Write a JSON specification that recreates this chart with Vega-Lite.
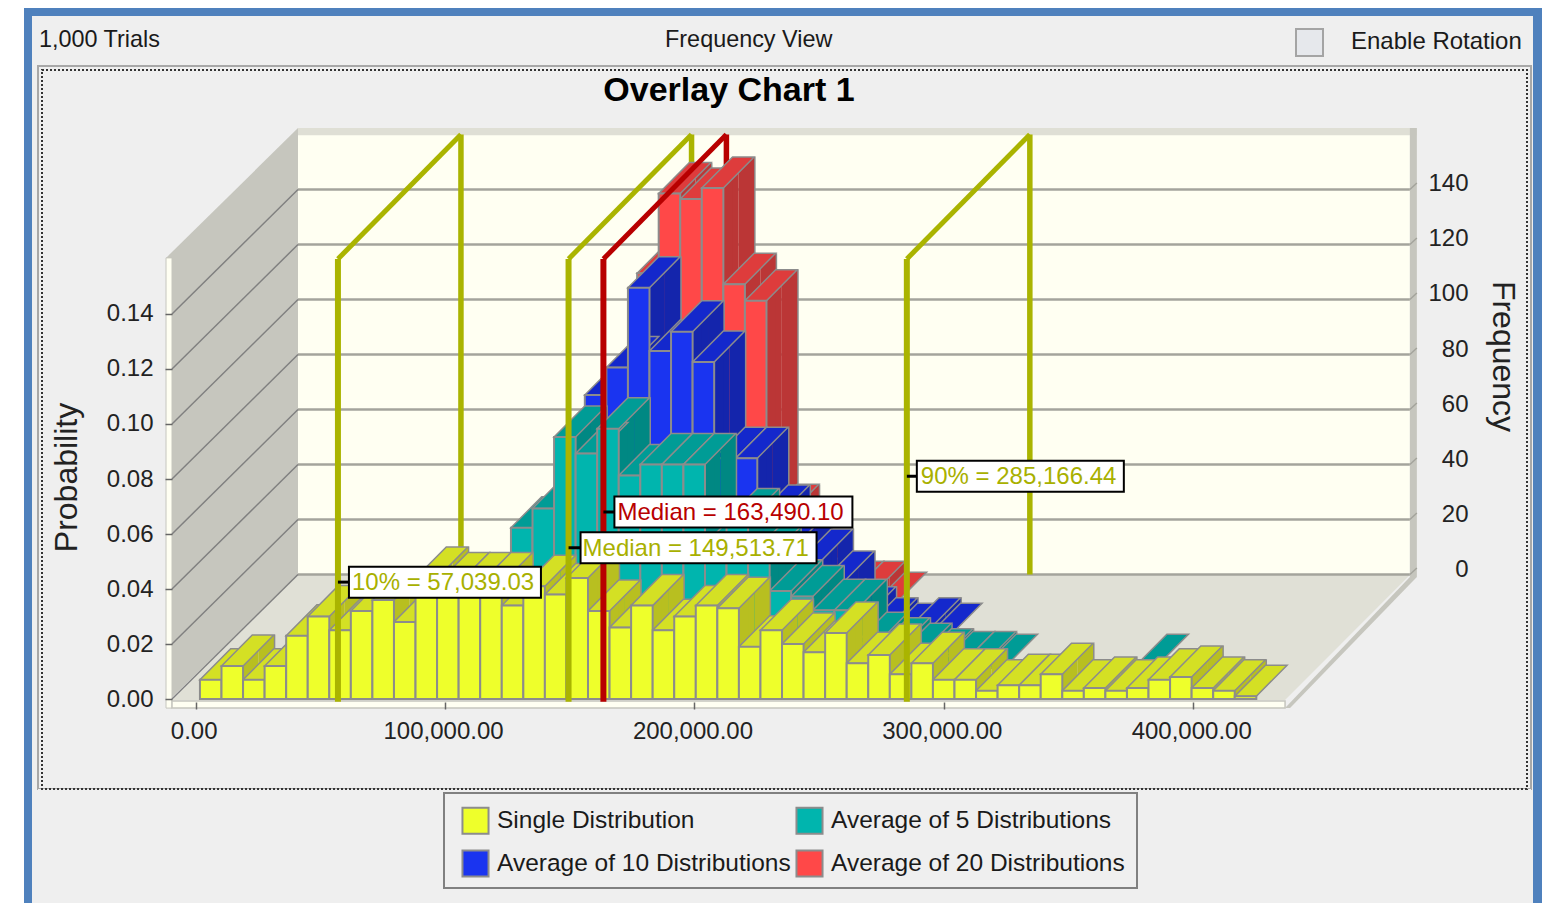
{"$schema":"https://vega.github.io/schema/vega-lite/v6.json","width":1542,"height":903,"padding":0,"autosize":"none","background":"#FFFFFF","config":{"view":{"stroke":null},"font":"Liberation Sans","axis":{"grid":false,"labelFont":"Liberation Sans","titleFont":"Liberation Sans"}},
"title":{"text":"Overlay Chart 1","font":"Liberation Sans","fontSize":34,"fontWeight":"bold","color":"#000000","anchor":"middle","dx":-42,"dy":108,"offset":0},
"datasets":{
"single":[
{"series":"Single Distribution","binStart":1700,"binEnd":10345,"freq":7},{"series":"Single Distribution","binStart":10345,"binEnd":18990,"freq":12},{"series":"Single Distribution","binStart":18990,"binEnd":27635,"freq":7},{"series":"Single Distribution","binStart":27635,"binEnd":36280,"freq":12},{"series":"Single Distribution","binStart":36280,"binEnd":44925,"freq":23},{"series":"Single Distribution","binStart":44925,"binEnd":53570,"freq":30},{"series":"Single Distribution","binStart":53570,"binEnd":62215,"freq":25},{"series":"Single Distribution","binStart":62215,"binEnd":70860,"freq":32},{"series":"Single Distribution","binStart":70860,"binEnd":79505,"freq":36},{"series":"Single Distribution","binStart":79505,"binEnd":88150,"freq":28},{"series":"Single Distribution","binStart":88150,"binEnd":96795,"freq":44},{"series":"Single Distribution","binStart":96795,"binEnd":105440,"freq":42},{"series":"Single Distribution","binStart":105440,"binEnd":114085,"freq":42},{"series":"Single Distribution","binStart":114085,"binEnd":122730,"freq":42},{"series":"Single Distribution","binStart":122730,"binEnd":131375,"freq":34},{"series":"Single Distribution","binStart":131375,"binEnd":140020,"freq":41},{"series":"Single Distribution","binStart":140020,"binEnd":148665,"freq":38},{"series":"Single Distribution","binStart":148665,"binEnd":157310,"freq":44},{"series":"Single Distribution","binStart":157310,"binEnd":165955,"freq":32},{"series":"Single Distribution","binStart":165955,"binEnd":174600,"freq":26},{"series":"Single Distribution","binStart":174600,"binEnd":183245,"freq":34},{"series":"Single Distribution","binStart":183245,"binEnd":191890,"freq":25},{"series":"Single Distribution","binStart":191890,"binEnd":200535,"freq":30},{"series":"Single Distribution","binStart":200535,"binEnd":209180,"freq":34},{"series":"Single Distribution","binStart":209180,"binEnd":217825,"freq":33},{"series":"Single Distribution","binStart":217825,"binEnd":226470,"freq":19},{"series":"Single Distribution","binStart":226470,"binEnd":235115,"freq":25},{"series":"Single Distribution","binStart":235115,"binEnd":243760,"freq":20},{"series":"Single Distribution","binStart":243760,"binEnd":252405,"freq":17},{"series":"Single Distribution","binStart":252405,"binEnd":261050,"freq":24},{"series":"Single Distribution","binStart":261050,"binEnd":269695,"freq":13},{"series":"Single Distribution","binStart":269695,"binEnd":278340,"freq":16},{"series":"Single Distribution","binStart":278340,"binEnd":286985,"freq":9},{"series":"Single Distribution","binStart":286985,"binEnd":295630,"freq":13},{"series":"Single Distribution","binStart":295630,"binEnd":304275,"freq":7},{"series":"Single Distribution","binStart":304275,"binEnd":312920,"freq":7},{"series":"Single Distribution","binStart":312920,"binEnd":321565,"freq":3},{"series":"Single Distribution","binStart":321565,"binEnd":330210,"freq":5},{"series":"Single Distribution","binStart":330210,"binEnd":338855,"freq":5},{"series":"Single Distribution","binStart":338855,"binEnd":347500,"freq":9},{"series":"Single Distribution","binStart":347500,"binEnd":356145,"freq":3},{"series":"Single Distribution","binStart":356145,"binEnd":364790,"freq":4},{"series":"Single Distribution","binStart":364790,"binEnd":373435,"freq":3},{"series":"Single Distribution","binStart":373435,"binEnd":382080,"freq":4},{"series":"Single Distribution","binStart":382080,"binEnd":390725,"freq":7},{"series":"Single Distribution","binStart":390725,"binEnd":399370,"freq":8},{"series":"Single Distribution","binStart":399370,"binEnd":408015,"freq":4},{"series":"Single Distribution","binStart":408015,"binEnd":416660,"freq":3},{"series":"Single Distribution","binStart":416660,"binEnd":425305,"freq":1}],
"avg5":[
{"series":"Average of 5 Distributions","binStart":88150,"binEnd":96795,"freq":8},{"series":"Average of 5 Distributions","binStart":96795,"binEnd":105440,"freq":16},{"series":"Average of 5 Distributions","binStart":105440,"binEnd":114085,"freq":30},{"series":"Average of 5 Distributions","binStart":114085,"binEnd":122730,"freq":51},{"series":"Average of 5 Distributions","binStart":122730,"binEnd":131375,"freq":58},{"series":"Average of 5 Distributions","binStart":131375,"binEnd":140020,"freq":84},{"series":"Average of 5 Distributions","binStart":140020,"binEnd":148665,"freq":78},{"series":"Average of 5 Distributions","binStart":148665,"binEnd":157310,"freq":87},{"series":"Average of 5 Distributions","binStart":157310,"binEnd":165955,"freq":70},{"series":"Average of 5 Distributions","binStart":165955,"binEnd":174600,"freq":74},{"series":"Average of 5 Distributions","binStart":174600,"binEnd":183245,"freq":74},{"series":"Average of 5 Distributions","binStart":183245,"binEnd":191890,"freq":74},{"series":"Average of 5 Distributions","binStart":191890,"binEnd":200535,"freq":45},{"series":"Average of 5 Distributions","binStart":200535,"binEnd":209180,"freq":54},{"series":"Average of 5 Distributions","binStart":209180,"binEnd":217825,"freq":40},{"series":"Average of 5 Distributions","binStart":217825,"binEnd":226470,"freq":28},{"series":"Average of 5 Distributions","binStart":226470,"binEnd":235115,"freq":26},{"series":"Average of 5 Distributions","binStart":235115,"binEnd":243760,"freq":21},{"series":"Average of 5 Distributions","binStart":243760,"binEnd":252405,"freq":21},{"series":"Average of 5 Distributions","binStart":252405,"binEnd":261050,"freq":9},{"series":"Average of 5 Distributions","binStart":261050,"binEnd":269695,"freq":7},{"series":"Average of 5 Distributions","binStart":269695,"binEnd":278340,"freq":5},{"series":"Average of 5 Distributions","binStart":278340,"binEnd":286985,"freq":3},{"series":"Average of 5 Distributions","binStart":286985,"binEnd":295630,"freq":2},{"series":"Average of 5 Distributions","binStart":295630,"binEnd":304275,"freq":2},{"series":"Average of 5 Distributions","binStart":304275,"binEnd":312920,"freq":1},{"series":"Average of 5 Distributions","binStart":364790,"binEnd":373435,"freq":1}],
"avg10":[
{"series":"Average of 10 Distributions","binStart":114085,"binEnd":122730,"freq":30},{"series":"Average of 10 Distributions","binStart":122730,"binEnd":131375,"freq":60},{"series":"Average of 10 Distributions","binStart":131375,"binEnd":140020,"freq":88},{"series":"Average of 10 Distributions","binStart":140020,"binEnd":148665,"freq":98},{"series":"Average of 10 Distributions","binStart":148665,"binEnd":157310,"freq":127},{"series":"Average of 10 Distributions","binStart":157310,"binEnd":165955,"freq":104},{"series":"Average of 10 Distributions","binStart":165955,"binEnd":174600,"freq":111},{"series":"Average of 10 Distributions","binStart":174600,"binEnd":183245,"freq":100},{"series":"Average of 10 Distributions","binStart":183245,"binEnd":191890,"freq":65},{"series":"Average of 10 Distributions","binStart":191890,"binEnd":200535,"freq":65},{"series":"Average of 10 Distributions","binStart":200535,"binEnd":209180,"freq":44},{"series":"Average of 10 Distributions","binStart":209180,"binEnd":217825,"freq":35},{"series":"Average of 10 Distributions","binStart":217825,"binEnd":226470,"freq":28},{"series":"Average of 10 Distributions","binStart":226470,"binEnd":235115,"freq":20},{"series":"Average of 10 Distributions","binStart":235115,"binEnd":243760,"freq":7},{"series":"Average of 10 Distributions","binStart":243760,"binEnd":252405,"freq":3},{"series":"Average of 10 Distributions","binStart":252405,"binEnd":261050,"freq":1},{"series":"Average of 10 Distributions","binStart":261050,"binEnd":269695,"freq":3},{"series":"Average of 10 Distributions","binStart":269695,"binEnd":278340,"freq":1}],
"avg20":[
{"series":"Average of 20 Distributions","binStart":122730,"binEnd":131375,"freq":45},{"series":"Average of 20 Distributions","binStart":131375,"binEnd":140020,"freq":70},{"series":"Average of 20 Distributions","binStart":140020,"binEnd":148665,"freq":121},{"series":"Average of 20 Distributions","binStart":148665,"binEnd":157310,"freq":150},{"series":"Average of 20 Distributions","binStart":157310,"binEnd":165955,"freq":148},{"series":"Average of 20 Distributions","binStart":165955,"binEnd":174600,"freq":152},{"series":"Average of 20 Distributions","binStart":174600,"binEnd":183245,"freq":117},{"series":"Average of 20 Distributions","binStart":183245,"binEnd":191890,"freq":111},{"series":"Average of 20 Distributions","binStart":191890,"binEnd":200535,"freq":33},{"series":"Average of 20 Distributions","binStart":200535,"binEnd":209180,"freq":15},{"series":"Average of 20 Distributions","binStart":209180,"binEnd":217825,"freq":7},{"series":"Average of 20 Distributions","binStart":217825,"binEnd":226470,"freq":5},{"series":"Average of 20 Distributions","binStart":226470,"binEnd":235115,"freq":5},{"series":"Average of 20 Distributions","binStart":235115,"binEnd":243760,"freq":1}],
"levels":[{"freq":0},{"freq":20},{"freq":40},{"freq":60},{"freq":80},{"freq":100},{"freq":120},{"freq":140}],
"markers":[
{"label":"10% = 57,039.03","value":57039.03,"level":42.5},
{"label":"Median = 149,513.71","value":149513.71,"level":55},
{"label":"Median = 163,490.10","value":163490.1,"level":68},
{"label":"90% = 285,166.44","value":285166.44,"level":81}]
},
"layer":[
{"layer":[
{"data":{"values":[{"a":-68852,"b":539866,"c":251.27,"d":-74.18}]},"mark":{"type":"rect","color":"#4F81BD"},"encoding":{
"x":{"field":"a","type":"quantitative","scale":{"domain":[-78476,539866],"nice":false,"zero":false},"axis":{"orient":"bottom","offset":-201,"zindex":1,"values":[0,100000,200000,300000,400000],"format":",.2f","title":null,"domain":false,"tickSize":7,"tickColor":"#666666","tickWidth":1.5,"labelPadding":10,"labelOffset":-2,"labelFontSize":24,"labelColor":"#222222","labelFlush":false,"labelOverlap":false},"title":null},"x2":{"field":"b"},
"y":{"field":"c","type":"quantitative","scale":{"domain":[-74.18,254.18],"nice":false,"zero":false},"axis":{"orient":"left","offset":-172,"zindex":1,"values":[0,20,40,60,80,100,120,140],"labelExpr":"format(datum.value/1000,'.2f')","title":"Probability","titleFontSize":32,"titleFontWeight":"normal","titleColor":"#222222","titleX":-106,"titleY":477,"titleAngle":270,"titleAlign":"center","titleBaseline":"middle","domain":false,"tickSize":7,"tickColor":"#666666","tickWidth":1.5,"labelPadding":12,"labelFontSize":24,"labelColor":"#222222","labelOverlap":false}},"y2":{"field":"d"}}},
{"data":{"values":[{"a":-65644,"b":536257,"c":248.36,"d":-74.18}]},"mark":{"type":"rect","color":"#EFEFEF"},"encoding":{"x":{"field":"a","type":"quantitative"},"x2":{"field":"b"},"y":{"field":"c","type":"quantitative"},"y2":{"field":"d"}}},
{"data":{"values":[{"a":-63238,"b":535455,"c":230.18,"d":-32.73}]},"mark":{"type":"rect","fill":"#EFEFEF","stroke":"#A8A8A8","strokeWidth":2},"encoding":{"x":{"field":"a","type":"quantitative"},"x2":{"field":"b"},"y":{"field":"c","type":"quantitative"},"y2":{"field":"d"}}},
{"data":{"values":[{"a":-63238,"b":535455,"c":-32.73,"d":-36}]},"mark":{"type":"rect","color":"#EFEFEF"},"encoding":{"x":{"field":"a","type":"quantitative"},"x2":{"field":"b"},"y":{"field":"c","type":"quantitative"},"y2":{"field":"d"}}},
{"data":{"values":[{"a":-61634,"b":533851,"c":228.73,"d":-32.73}]},"mark":{"type":"rect","fillOpacity":0,"stroke":"#333333","strokeWidth":2,"strokeDash":[2,2]},"encoding":{"x":{"field":"a","type":"quantitative"},"x2":{"field":"b"},"y":{"field":"c","type":"quantitative"},"y2":{"field":"d"}}},
{"data":{"values":[{"a":99568,"b":377461,"c":-34.18,"d":-68.73}]},"mark":{"type":"rect","fill":"#EFEFEF","stroke":"#808080","strokeWidth":2},"encoding":{"x":{"field":"a","type":"quantitative"},"x2":{"field":"b"},"y":{"field":"c","type":"quantitative"},"y2":{"field":"d"}}},
{"data":{"values":[{"a":441220,"b":452047,"c":243.6,"d":233.8}]},"mark":{"type":"rect","fill":"#E6E8EC","stroke":"#A4A4A4","strokeWidth":2},"encoding":{"x":{"field":"a","type":"quantitative"},"x2":{"field":"b"},"y":{"field":"c","type":"quantitative"},"y2":{"field":"d"}}},
{"data":{"values":[{"text":"1,000 Trials","a":-62837,"c":239.6},{"text":"Frequency View","a":188206,"c":239.6}]},"mark":{"type":"text","align":"left","baseline":"middle","font":"Liberation Sans","fontSize":23.4,"color":"#1A1A1A"},"encoding":{"x":{"field":"a","type":"quantitative"},"y":{"field":"c","type":"quantitative"},"text":{"field":"text"}}},
{"data":{"values":[{"text":"Enable Rotation","a":463275,"c":239}]},"mark":{"type":"text","align":"left","baseline":"middle","font":"Liberation Sans","fontSize":24,"color":"#1A1A1A"},"encoding":{"x":{"field":"a","type":"quantitative"},"y":{"field":"c","type":"quantitative"},"text":{"field":"text"}}},
{"data":{"values":[{"a":-11910,"c":160.4,"d":-1.5},{"a":41022,"c":207.6,"d":45.1}]},"mark":{"type":"area","color":"#C6C6BE"},"encoding":{"x":{"field":"a","type":"quantitative"},"y":{"field":"c","type":"quantitative"},"y2":{"field":"d"}}},
{"data":{"values":[{"a":-9504,"b":436833,"c":-0.4},{"a":41022,"b":486877,"c":45.1}]},"mark":{"type":"area","orient":"horizontal","color":"#E0E0D6"},"encoding":{"y":{"field":"c","type":"quantitative"},"x":{"field":"a","type":"quantitative"},"x2":{"field":"b"}}},
{"data":{"values":[{"a":436833,"b":438838,"c":-3.3},{"a":486877,"b":489684,"c":44.4}]},"mark":{"type":"area","orient":"horizontal","color":"#C6C6BE"},"encoding":{"y":{"field":"c","type":"quantitative"},"x":{"field":"a","type":"quantitative"},"x2":{"field":"b"}}},
{"data":{"values":[{"a":41022,"b":486877,"c":207.6,"d":45.1}]},"mark":{"type":"rect","color":"#FFFFF2"},"encoding":{"x":{"field":"a","type":"quantitative"},"x2":{"field":"b"},"y":{"field":"c","type":"quantitative"},"y2":{"field":"d"}}},
{"data":{"values":[{"a":41022,"b":489684,"c":207.6,"d":205}]},"mark":{"type":"rect","color":"#DFDFD5"},"encoding":{"x":{"field":"a","type":"quantitative"},"x2":{"field":"b"},"y":{"field":"c","type":"quantitative"},"y2":{"field":"d"}}},
{"data":{"values":[{"a":486877,"b":489684,"c":207.6,"d":44.4}]},"mark":{"type":"rect","color":"#C6C6BE"},"encoding":{"x":{"field":"a","type":"quantitative"},"x2":{"field":"b"},"y":{"field":"c","type":"quantitative"},"y2":{"field":"d"}}},
{"data":{"values":[{"a":-11910,"b":-9504,"c":160.4,"d":-3.3}]},"mark":{"type":"rect","color":"#FFFFF2","stroke":"#C6C6BE","strokeWidth":1},"encoding":{"x":{"field":"a","type":"quantitative"},"x2":{"field":"b"},"y":{"field":"c","type":"quantitative"},"y2":{"field":"d"}}},
{"data":{"values":[{"a":-9504,"b":436833,"c":-0.7,"d":-3.3}]},"mark":{"type":"rect","color":"#FFFFF2","stroke":"#C6C6BE","strokeWidth":1.5},"encoding":{"x":{"field":"a","type":"quantitative"},"x2":{"field":"b"},"y":{"field":"c","type":"quantitative"},"y2":{"field":"d"}}},
{"data":{"name":"levels"},"mark":{"type":"rule","color":"#A4A49C","strokeWidth":2.5,"yOffset":-124.5},"encoding":{"x":{"datum":41022},"x2":{"datum":486877},"y":{"field":"freq","type":"quantitative"}}},
{"data":{"name":"levels"},"mark":{"type":"rule","color":"#808080","strokeWidth":1.5,"y2Offset":-124.5},"encoding":{"x":{"datum":-9504},"x2":{"datum":41022},"y":{"field":"freq","type":"quantitative"},"y2":{"field":"freq"}}},
{"data":{"name":"levels"},"mark":{"type":"rule","color":"#A4A49C","strokeWidth":1.5,"yOffset":-124.5,"y2Offset":-131},"encoding":{"x":{"datum":486877},"x2":{"datum":489684},"y":{"field":"freq","type":"quantitative"},"y2":{"field":"freq"}}},
{"data":{"name":"markers"},"mark":{"type":"rule","strokeWidth":5.5,"xOffset":123,"yOffset":-124.5,"y2Offset":-124.5},"encoding":{"x":{"field":"value","type":"quantitative"},"y":{"datum":160},"y2":{"datum":0},"color":{"condition":{"test":"datum.label==='Median = 163,490.10'","value":"#B80000"},"value":"#AAB400"}}},
{"data":{"name":"avg20"},"transform":[{"filter":"datum.freq>1"}],"mark":{"type":"rule","color":"#8C8C8C","strokeWidth":3,"xOffset":123,"yOffset":-124,"y2Offset":-124},"encoding":{"x":{"field":"binEnd","type":"quantitative"},"y":{"field":"freq","type":"quantitative"},"y2":{"datum":0}}},
{"data":{"name":"avg20"},"transform":[{"filter":"datum.freq>1"}],"mark":{"type":"rect","color":"#BB3636","xOffset":92.25,"x2Offset":107.6,"yOffset":-108.5,"y2Offset":-93},"encoding":{"x":{"field":"binEnd","type":"quantitative"},"x2":{"field":"binEnd"},"y":{"field":"freq","type":"quantitative"},"y2":{"datum":0}}},
{"data":{"name":"avg20"},"transform":[{"filter":"datum.freq>1"}],"mark":{"type":"rect","color":"#BB3636","xOffset":107.6,"x2Offset":123,"yOffset":-124,"y2Offset":-108.5},"encoding":{"x":{"field":"binEnd","type":"quantitative"},"x2":{"field":"binEnd"},"y":{"field":"freq","type":"quantitative"},"y2":{"datum":0}}},
{"data":{"name":"avg20"},"mark":{"type":"point","shape":"M0,0L21.56,0L52.31,-31L30.75,-31Z","size":4,"filled":true,"opacity":1,"fill":"#DE3C3C","stroke":"#8C8C8C","strokeWidth":1.5,"xOffset":92.25,"yOffset":-93},"encoding":{"x":{"field":"binStart","type":"quantitative"},"y":{"field":"freq","type":"quantitative"}}},
{"data":{"name":"avg20"},"mark":{"type":"rect","stroke":"#8C8C8C","strokeWidth":2,"xOffset":92.25,"x2Offset":92.25,"yOffset":-93,"y2Offset":-93},"encoding":{"x":{"field":"binStart","type":"quantitative"},"x2":{"field":"binEnd"},"y":{"field":"freq","type":"quantitative"},"y2":{"datum":0},"color":{"field":"series","type":"nominal","scale":{"domain":["Single Distribution","Average of 10 Distributions","Average of 5 Distributions","Average of 20 Distributions"],"range":["#EEFF2B","#1A34F0","#00B5AE","#FF4848"]},"legend":{"orient":"none","legendX":445,"legendY":790,"columns":2,"title":null,"symbolType":"square","symbolSize":680,"symbolStrokeColor":"#8C8C8C","symbolStrokeWidth":2,"labelFont":"Liberation Sans","labelFontSize":24.5,"labelColor":"#1A1A1A","labelLimit":0,"labelOffset":7,"columnPadding":1,"rowPadding":8,"padding":16}}}},
{"data":{"name":"avg10"},"transform":[{"filter":"datum.freq>1"}],"mark":{"type":"rule","color":"#8C8C8C","strokeWidth":3,"xOffset":92.25,"yOffset":-93,"y2Offset":-93},"encoding":{"x":{"field":"binEnd","type":"quantitative"},"y":{"field":"freq","type":"quantitative"},"y2":{"datum":0}}},
{"data":{"name":"avg10"},"transform":[{"filter":"datum.freq>1"}],"mark":{"type":"rect","color":"#1425AC","xOffset":61.5,"x2Offset":76.9,"yOffset":-77.5,"y2Offset":-62},"encoding":{"x":{"field":"binEnd","type":"quantitative"},"x2":{"field":"binEnd"},"y":{"field":"freq","type":"quantitative"},"y2":{"datum":0}}},
{"data":{"name":"avg10"},"transform":[{"filter":"datum.freq>1"}],"mark":{"type":"rect","color":"#1425AC","xOffset":76.9,"x2Offset":92.25,"yOffset":-93,"y2Offset":-77.5},"encoding":{"x":{"field":"binEnd","type":"quantitative"},"x2":{"field":"binEnd"},"y":{"field":"freq","type":"quantitative"},"y2":{"datum":0}}},
{"data":{"name":"avg10"},"mark":{"type":"point","shape":"M0,0L21.56,0L52.31,-31L30.75,-31Z","size":4,"filled":true,"opacity":1,"fill":"#1428CC","stroke":"#8C8C8C","strokeWidth":1.5,"xOffset":61.5,"yOffset":-62},"encoding":{"x":{"field":"binStart","type":"quantitative"},"y":{"field":"freq","type":"quantitative"}}},
{"data":{"name":"avg10"},"mark":{"type":"rect","stroke":"#8C8C8C","strokeWidth":2,"xOffset":61.5,"x2Offset":61.5,"yOffset":-62,"y2Offset":-62},"encoding":{"x":{"field":"binStart","type":"quantitative"},"x2":{"field":"binEnd"},"y":{"field":"freq","type":"quantitative"},"y2":{"datum":0},"color":{"field":"series","type":"nominal"}}},
{"data":{"name":"avg5"},"transform":[{"filter":"datum.freq>1"}],"mark":{"type":"rule","color":"#8C8C8C","strokeWidth":3,"xOffset":61.5,"yOffset":-62,"y2Offset":-62},"encoding":{"x":{"field":"binEnd","type":"quantitative"},"y":{"field":"freq","type":"quantitative"},"y2":{"datum":0}}},
{"data":{"name":"avg5"},"transform":[{"filter":"datum.freq>1"}],"mark":{"type":"rect","color":"#008883","xOffset":30.75,"x2Offset":46.1,"yOffset":-46.5,"y2Offset":-31},"encoding":{"x":{"field":"binEnd","type":"quantitative"},"x2":{"field":"binEnd"},"y":{"field":"freq","type":"quantitative"},"y2":{"datum":0}}},
{"data":{"name":"avg5"},"transform":[{"filter":"datum.freq>1"}],"mark":{"type":"rect","color":"#008883","xOffset":46.1,"x2Offset":61.5,"yOffset":-62,"y2Offset":-46.5},"encoding":{"x":{"field":"binEnd","type":"quantitative"},"x2":{"field":"binEnd"},"y":{"field":"freq","type":"quantitative"},"y2":{"datum":0}}},
{"data":{"name":"avg5"},"mark":{"type":"point","shape":"M0,0L21.56,0L52.31,-31L30.75,-31Z","size":4,"filled":true,"opacity":1,"fill":"#009C96","stroke":"#8C8C8C","strokeWidth":1.5,"xOffset":30.75,"yOffset":-31},"encoding":{"x":{"field":"binStart","type":"quantitative"},"y":{"field":"freq","type":"quantitative"}}},
{"data":{"name":"avg5"},"mark":{"type":"rect","stroke":"#8C8C8C","strokeWidth":2,"xOffset":30.75,"x2Offset":30.75,"yOffset":-31,"y2Offset":-31},"encoding":{"x":{"field":"binStart","type":"quantitative"},"x2":{"field":"binEnd"},"y":{"field":"freq","type":"quantitative"},"y2":{"datum":0},"color":{"field":"series","type":"nominal"}}},
{"data":{"name":"single"},"transform":[{"filter":"datum.freq>1"}],"mark":{"type":"rule","color":"#8C8C8C","strokeWidth":3,"xOffset":30.75,"yOffset":-31,"y2Offset":-31},"encoding":{"x":{"field":"binEnd","type":"quantitative"},"y":{"field":"freq","type":"quantitative"},"y2":{"datum":0}}},
{"data":{"name":"single"},"transform":[{"filter":"datum.freq>1"}],"mark":{"type":"rect","color":"#B8BF20","x2Offset":15.4,"yOffset":-15.5},"encoding":{"x":{"field":"binEnd","type":"quantitative"},"x2":{"field":"binEnd"},"y":{"field":"freq","type":"quantitative"},"y2":{"datum":0}}},
{"data":{"name":"single"},"transform":[{"filter":"datum.freq>1"}],"mark":{"type":"rect","color":"#B8BF20","xOffset":15.4,"x2Offset":30.75,"yOffset":-31,"y2Offset":-15.5},"encoding":{"x":{"field":"binEnd","type":"quantitative"},"x2":{"field":"binEnd"},"y":{"field":"freq","type":"quantitative"},"y2":{"datum":0}}},
{"data":{"name":"single"},"mark":{"type":"point","shape":"M0,0L21.56,0L52.31,-31L30.75,-31Z","size":4,"filled":true,"opacity":1,"fill":"#D4E024","stroke":"#8C8C8C","strokeWidth":1.5},"encoding":{"x":{"field":"binStart","type":"quantitative"},"y":{"field":"freq","type":"quantitative"}}},
{"data":{"name":"single"},"mark":{"type":"rect","stroke":"#8C8C8C","strokeWidth":2},"encoding":{"x":{"field":"binStart","type":"quantitative"},"x2":{"field":"binEnd"},"y":{"field":"freq","type":"quantitative"},"y2":{"datum":0},"color":{"field":"series","type":"nominal"}}},
{"data":{"name":"markers"},"mark":{"type":"rule","strokeWidth":5,"x2Offset":123,"y2Offset":-124.5},"encoding":{"x":{"field":"value","type":"quantitative"},"x2":{"field":"value"},"y":{"datum":160},"y2":{"datum":160},"color":{"condition":{"test":"datum.label==='Median = 163,490.10'","value":"#B80000"},"value":"#AAB400"}}},
{"data":{"name":"markers"},"mark":{"type":"rule","strokeWidth":6},"encoding":{"x":{"field":"value","type":"quantitative"},"y":{"datum":160},"y2":{"datum":-1},"color":{"condition":{"test":"datum.label==='Median = 163,490.10'","value":"#B80000"},"value":"#AAB400"}}},
{"data":{"name":"markers"},"mark":{"type":"rule","strokeWidth":3,"color":"#000000","x2Offset":12},"encoding":{"x":{"field":"value","type":"quantitative"},"x2":{"field":"value"},"y":{"field":"level","type":"quantitative"}}},
{"data":{"name":"markers"},"mark":{"type":"point","size":4,"filled":true,"opacity":1,"fill":"#FFFFFF","stroke":"#000000","strokeWidth":2},"encoding":{"x":{"field":"value","type":"quantitative"},"y":{"field":"level","type":"quantitative"},"shape":{"field":"label","type":"nominal","legend":null,"scale":{"domain":["10% = 57,039.03","Median = 149,513.71","Median = 163,490.10","90% = 285,166.44"],"range":["M11,-15.5L203,-15.5L203,15.5L11,15.5Z","M12,-15.5L248,-15.5L248,15.5L12,15.5Z","M11,-15.5L249,-15.5L249,15.5L11,15.5Z","M10,-15.5L217,-15.5L217,15.5L10,15.5Z"]}}}},
{"data":{"name":"markers"},"mark":{"type":"text","align":"left","baseline":"middle","dx":14,"dy":1,"font":"Liberation Sans","fontSize":24},"encoding":{"x":{"field":"value","type":"quantitative"},"y":{"field":"level","type":"quantitative"},"text":{"field":"label"},"color":{"condition":{"test":"datum.label==='Median = 163,490.10'","value":"#B80000"},"value":"#A8B000"}}}
]},
{"data":{"name":"levels"},"mark":{"type":"rule","opacity":0},"encoding":{"x":{"datum":0,"type":"quantitative"},"y":{"field":"freq","type":"quantitative","scale":{"domain":[-74.18,254.18],"nice":false,"zero":false},"axis":{"orient":"right","offset":-125,"zindex":1,"values":[0,20,40,60,80,100,120,140],"title":"Frequency","titleFontSize":32,"titleFontWeight":"normal","titleColor":"#222222","titleX":85,"titleY":356,"titleAngle":90,"titleAlign":"center","titleBaseline":"middle","domain":false,"ticks":false,"labelPadding":51,"labelAlign":"right","labelOffset":-130,"labelFontSize":24,"labelColor":"#222222","labelOverlap":false}}}}
],
"resolve":{"axis":{"y":"independent"}}}
